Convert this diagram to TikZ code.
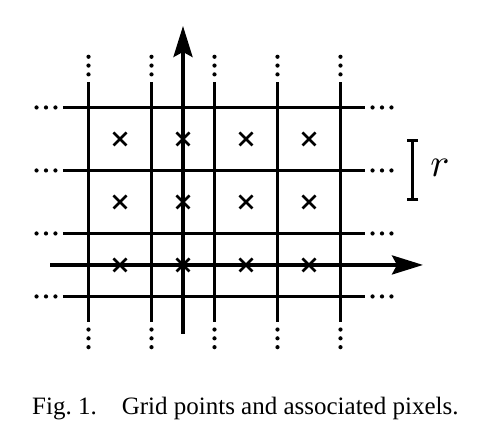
\documentclass[tikz,border=0pt]{standalone}
\usepackage{fontspec}
\newfontfamily\capfont{Liberation Serif}
\usetikzlibrary{arrows.meta, shapes.misc}

\begin{document}
\begin{tikzpicture}[x=63pt, y=63pt,
    gridline/.style={line width=3.6pt},
    axis/.style={line width=3.6pt, -{Stealth[length=31pt, width=19pt, inset=5pt]}},
    pixel/.style={cross out, draw, line width=2.6pt, minimum size=13pt, inner sep=0pt, outer sep=0pt},
    scalebar/.style={line width=3pt, {Bar[width=11pt]}-{Bar[width=11pt]}}]
    \useasboundingbox (-2.905,-2.714) rectangle (4.794,4.206);
    % grid lines
    \foreach \x in {-1.5,-0.5,0.5,1.5,2.5}
        \draw[gridline] (\x,-0.905) -- (\x,2.905);
    \foreach \y in {-0.5,0.5,1.5,2.5}
        \draw[gridline] (-1.905,\y) -- (2.889,\y);
    % continuation dots
    \foreach \x in {-1.5,-0.5,0.5,1.5,2.5}
        \foreach \d in {0.12,0.26,0.40} {
            \fill (\x,2.905+\d) circle (2.1pt);
            \fill (\x,-0.905-\d) circle (2.1pt);
        }
    \foreach \y in {-0.5,0.5,1.5,2.5}
        \foreach \d in {0.12,0.27,0.42} {
            \fill (-1.905-\d,\y) circle (2.1pt);
            \fill (2.889+\d,\y) circle (2.1pt);
        }
    % axes
    \coordinate (xfrom) at (-2.111,0);
    \coordinate (xto) at (3.81,0);
    \coordinate (yfrom) at (0,-1.095);
    \coordinate (yto) at (0,3.794);
    \draw[axis] (xfrom) -- (xto);
    \draw[axis] (yfrom) -- (yto);
    % grid points
    \foreach \i in {-1,0,1,2}
        \foreach \j in {0,1,2}
            \node[pixel] (p\i\j) at (\i,\j) {};
    % spacing r
    \coordinate (rlow) at (3.651,1.01);
    \coordinate (rhigh) at (3.651,2);
    \draw[scalebar] (rlow) -- (rhigh);
    \node[scale=4] (rlabel) at (4.079,1.54) {$r$};
    %
    \node[anchor=base west, inner sep=0pt] (caption) at (-2.397,-2.381)
        {\capfont\fontsize{25}{30}\selectfont Fig.~1.\quad Grid points and associated pixels.};
\end{tikzpicture}
\end{document}
